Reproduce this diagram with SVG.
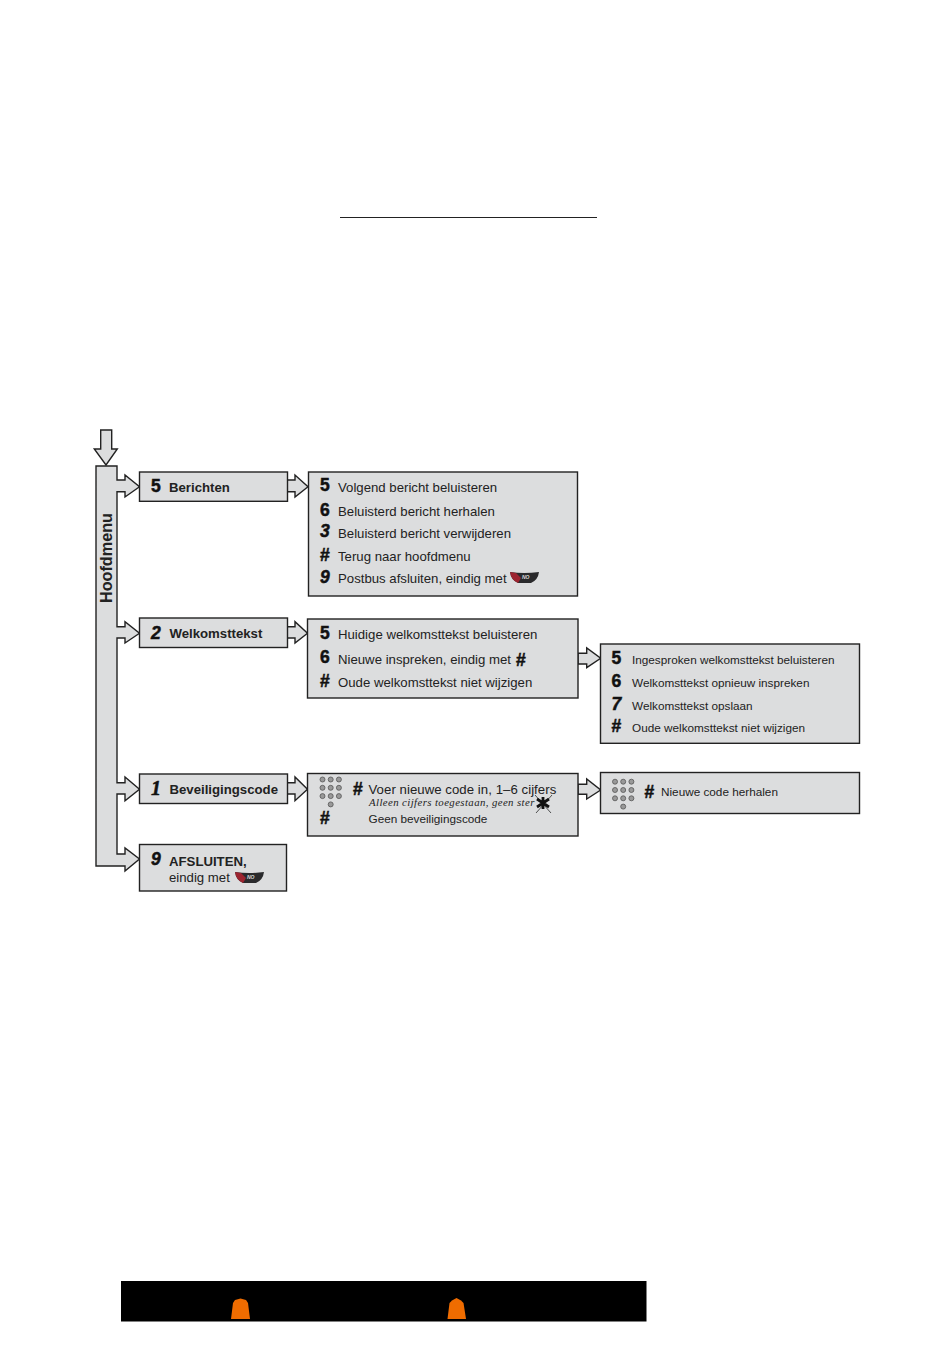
<svg xmlns="http://www.w3.org/2000/svg" width="950" height="1351" viewBox="0 0 950 1351">
<style>
.s{fill:#dcddde;stroke:#222;stroke-width:1.4;stroke-linejoin:miter}
.n{font-family:"Liberation Sans",Arial,sans-serif;font-weight:700;font-size:17.5px;fill:#111;stroke:#111;stroke-width:.5}
.i{font-style:italic}
.h{font-family:"Liberation Sans",Arial,sans-serif;font-weight:700;font-size:13.2px;fill:#222}
.m{font-size:16.2px}
.t{font-family:"Liberation Sans",Arial,sans-serif;font-size:13.2px;fill:#222}
.u{font-family:"Liberation Sans",Arial,sans-serif;font-size:11.75px;fill:#222}
.r{font-family:"Liberation Serif",serif}
.k{fill:#999;stroke:#555;stroke-width:.8}
.b{fill:#ef6c00}
</style>
<defs>
<g id="pad"><circle class="k" cx="0" cy="0" r="2.5"/><circle class="k" cx="8.200" cy="0" r="2.5"/><circle class="k" cx="16.400" cy="0" r="2.5"/><circle class="k" cx="0" cy="8.300" r="2.5"/><circle class="k" cx="8.200" cy="8.300" r="2.5"/><circle class="k" cx="16.400" cy="8.300" r="2.5"/><circle class="k" cx="0" cy="16.600" r="2.5"/><circle class="k" cx="8.200" cy="16.600" r="2.5"/><circle class="k" cx="16.400" cy="16.600" r="2.5"/><circle class="k" cx="8.200" cy="24.900" r="2.5"/></g>
<g id="no"><path d="M0,0Q14,2 29,0Q28,8 21,11H8Q1,8 0,0Z" fill="#2a2a2c"/><path d="M0,0L6,1L11,6L8,11Q1,8 0,0Z" fill="#9c2430"/><text x="12" y="6.500" font-family="Liberation Sans,sans-serif" font-size="5" font-weight="700" font-style="italic" fill="#ddd">NO</text></g>
</defs>
<line id="title-rule" x1="340" y1="217.5" x2="597" y2="217.5" stroke="#222" stroke-width="1"/>
<g id="connectors">
<path class="s" d="M100.700,430H111.700V449H117.300L106,465L94.300,449H100.700Z"/>
<path class="s" d="M96,466H117V480H125V475L139.500,486.700L125,497V491.700H117V626.700H125V621.700L139.500,633.300L125,643V638H117V782.700H125V777L139.500,789.300L125,800.700V794H117V854H125V848L139.500,859L125,871V866H96Z"/>
<path class="s" d="M287,480H295V475L308,486.700L295,497V491.700H287Z"/>
<path class="s" d="M287,626.700H295V621.700L307.500,633.300L295,643V638H287Z"/>
<path class="s" d="M287,782.700H295V777L307.500,789.300L295,800.700V794H287Z"/>
<path class="s" d="M578,653.300H586.700V648L600.700,658.300L586.700,667.700V664H578Z"/>
<path class="s" d="M578,784.300H586.700V779L600.700,790L586.700,799V794.300H578Z"/>
</g>
<text class="h m" transform="translate(111.500,603) rotate(-90)">Hoofdmenu</text>
<g id="berichten"><rect class="s" x="139.500" y="472" width="148" height="29.300"/><text class="n" x="151" y="491.500">5</text><text class="h" x="169" y="491.700">Berichten</text></g>
<g id="welkomsttekst"><rect class="s" x="139.500" y="618" width="148" height="29.500"/><text class="n i" x="151" y="638.500">2</text><text class="h" x="169.500" y="638">Welkomsttekst</text></g>
<g id="beveiligingscode"><rect class="s" x="139.500" y="774" width="148" height="29.500"/><text class="n i r" x="151" y="795" style="font-size:20px">1</text><text class="h" x="169.500" y="794">Beveiligingscode</text></g>
<g id="afsluiten"><rect class="s" x="139.500" y="844.500" width="147" height="46.500"/><text class="n i" x="151" y="865">9</text><text class="h" x="169" y="866">AFSLUITEN,</text><text class="t" x="169" y="882">eindig met</text><use href="#no" x="235" y="872"/></g>
<g id="berichten-menu"><rect class="s" x="308.500" y="472" width="269" height="124"/>
<text class="n" x="320" y="491">5</text><text class="t" x="338" y="492">Volgend bericht beluisteren</text>
<text class="n" x="320" y="515.500">6</text><text class="t" x="338" y="516">Beluisterd bericht herhalen</text>
<text class="n i" x="320" y="537">3</text><text class="t" x="338" y="538">Beluisterd bericht verwijderen</text>
<text class="n" x="320" y="560.500">#</text><text class="t" x="338" y="561">Terug naar hoofdmenu</text>
<text class="n i" x="320" y="582.500">9</text><text class="t" x="338" y="583">Postbus afsluiten, eindig met</text><use href="#no" x="510" y="572"/></g>
<g id="welkom-menu"><rect class="s" x="307.500" y="619" width="270.500" height="79"/>
<text class="n" x="320" y="638.500">5</text><text class="t" x="338" y="639">Huidige welkomsttekst beluisteren</text>
<text class="n" x="320" y="663">6</text><text class="t" x="338" y="664">Nieuwe inspreken, eindig met</text><text class="n" x="516" y="666">#</text>
<text class="n" x="320" y="686.500">#</text><text class="t" x="338" y="687">Oude welkomsttekst niet wijzigen</text></g>
<g id="welkom-submenu"><rect class="s" x="600.500" y="644" width="259" height="99.300"/>
<text class="n" x="611.500" y="663.500">5</text><text class="u" x="632" y="664">Ingesproken welkomsttekst beluisteren</text>
<text class="n" x="611.500" y="686.500">6</text><text class="u" x="632" y="686.500">Welkomsttekst opnieuw inspreken</text>
<text class="n i" x="611.500" y="709.500">7</text><text class="u" x="632" y="709.500">Welkomsttekst opslaan</text>
<text class="n" x="611.500" y="731.500">#</text><text class="u" x="632" y="731.500">Oude welkomsttekst niet wijzigen</text></g>
<g id="code-menu"><rect class="s" x="307.500" y="773.500" width="270.500" height="62.500"/>
<use href="#pad" x="322.500" y="779.500"/><text class="n" x="353" y="795">#</text>
<text class="t" x="368.500" y="794" letter-spacing=".05">Voer nieuwe code in, 1–6 cijfers</text>
<text class="r" x="369" y="806" font-style="italic" font-size="10.800" letter-spacing=".4" fill="#222">Alleen cijfers toegestaan, geen ster</text>
<g stroke="#111"><path d="M543,797V809M537,799L549,807M549,799L537,807" stroke-width="2.800"/><path d="M535,795L551,813M552,795L536,813" stroke-width=".7"/></g>
<text class="n" x="320" y="823.500">#</text><text class="u" x="368.500" y="823">Geen beveiligingscode</text></g>
<g id="code-repeat"><rect class="s" x="600.500" y="772.500" width="259" height="41"/>
<use href="#pad" x="615" y="781.700"/><text class="n" x="644.500" y="798">#</text><text class="u" x="661" y="796">Nieuwe code herhalen</text></g>
<g id="footer"><rect x="121" y="1281" width="525.500" height="40.500" fill="#000"/>
<path class="b" d="M231,1319L233,1303L235,1300L240.500,1298.500L246,1300L248,1303L250,1319Z"/>
<path class="b" d="M447.500,1319L449.500,1303L452,1300.500L456.500,1298L461,1300.500L463.500,1303L466,1319Z"/></g>
</svg>
